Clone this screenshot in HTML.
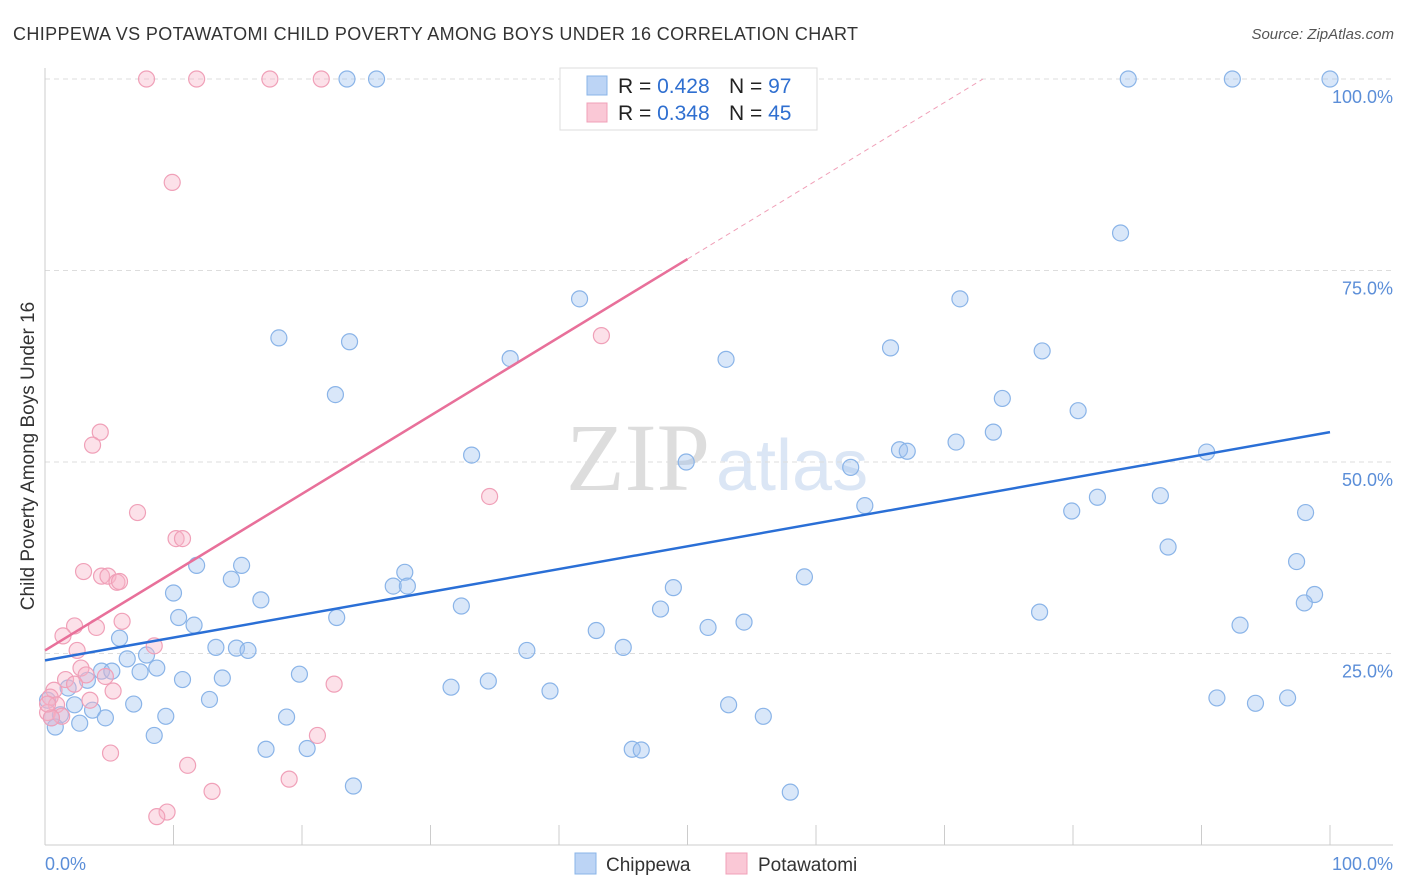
<!DOCTYPE html>
<html><head><meta charset="utf-8"><style>
body{margin:0;background:#fff;font-family:"Liberation Sans",sans-serif;}
svg{display:block}
</style></head><body>
<svg id="chart" width="1406" height="892">
<text x="13" y="40" font-size="18" fill="#333" textLength="845">CHIPPEWA VS POTAWATOMI CHILD POVERTY AMONG BOYS UNDER 16 CORRELATION CHART</text>
<text x="1394" y="39" font-size="15" fill="#555" font-style="italic" text-anchor="end">Source: ZipAtlas.com</text>
<text x="0" y="0" transform="translate(34,456) rotate(-90)" font-size="19" fill="#333" text-anchor="middle">Child Poverty Among Boys Under 16</text>
<text x="710" y="490" font-size="96" fill="#ddd" font-family="Liberation Serif,serif" text-anchor="end">ZIP</text>
<text x="716" y="490" font-size="72" fill="#dbe6f5">atlas</text>
<g id="grid"></g><g id="axes"></g><g id="pts"></g><g id="lines"></g>
<g>
<rect x="560" y="68" width="257" height="62" fill="#fff" stroke="#ddd"/>
<rect x="587" y="76" width="20" height="19" fill="#bcd4f5" stroke="#8ab4e8"/>
<rect x="587" y="103" width="20" height="19" fill="#fac8d6" stroke="#f0a0b8"/>
<text x="618" y="93" font-size="21" fill="#222">R = <tspan fill="#2f6fd0">0.428</tspan></text>
<text x="729" y="93" font-size="21" fill="#222">N = <tspan fill="#2f6fd0">97</tspan></text>
<text x="618" y="120" font-size="21" fill="#222">R = <tspan fill="#2f6fd0">0.348</tspan></text>
<text x="729" y="120" font-size="21" fill="#222">N = <tspan fill="#2f6fd0">45</tspan></text>
</g>
<g>
<rect x="575" y="853" width="21" height="21" fill="#bcd4f5" stroke="#8ab4e8"/>
<text x="606" y="871" font-size="19" fill="#333">Chippewa</text>
<rect x="726" y="853" width="21" height="21" fill="#fac8d6" stroke="#f0a0b8"/>
<text x="758" y="871" font-size="19" fill="#333">Potawatomi</text>
</g>
</svg>
<script>
const blueX=[23.5,25.8,84.3,92.4,100,83.7,41.6,71.2,18.2,23.7,65.8,77.6,36.2,53.0,22.6,74.5,80.4,73.8,70.9,66.5,67.1,90.4,33.2,49.9,62.7,86.8,81.9,79.9,63.8,98.1,87.4,97.4,11.8,15.3,14.5,28.0,27.1,28.2,48.9,59.1,10.0,16.8,98.8,32.4,47.9,98.0,22.7,10.4,11.6,77.4,42.9,51.6,54.4,93.0,5.8,13.3,14.9,15.8,37.5,45.0,7.9,6.4,8.7,7.4,4.4,5.2,3.3,10.7,13.8,19.8,1.8,31.6,34.5,39.3,12.8,6.9,2.3,3.7,4.7,9.4,18.8,53.2,55.9,91.2,94.2,96.7,0.5,1.2,2.7,0.8,8.5,17.2,20.4,45.7,46.4,24.0,58.0,0.2];
const blueY=[100,100,100,100,100,79.9,71.3,71.3,66.2,65.7,64.9,64.5,63.5,63.4,58.8,58.3,56.7,53.9,52.6,51.6,51.4,51.3,50.9,50.0,49.3,45.6,45.4,43.6,44.3,43.4,38.9,37.0,36.5,36.5,34.7,35.6,33.8,33.8,33.6,35.0,32.9,32.0,32.7,31.2,30.8,31.6,29.7,29.7,28.7,30.4,28.0,28.4,29.1,28.7,27.0,25.8,25.7,25.4,25.4,25.8,24.8,24.3,23.1,22.6,22.7,22.7,21.5,21.6,21.8,22.3,20.5,20.6,21.4,20.1,19.0,18.4,18.3,17.6,16.6,16.8,16.7,18.3,16.8,19.2,18.5,19.2,16.6,17.0,15.9,15.4,14.3,12.5,12.6,12.5,12.4,7.7,6.9,18.9];
const pinkX=[7.9,11.8,17.5,21.5,9.9,43.3,4.3,3.7,34.6,7.2,10.2,10.7,3.0,4.4,4.9,5.6,5.8,2.3,4.0,6.0,1.4,8.5,2.5,2.8,1.6,3.2,2.3,4.7,22.5,0.7,5.3,0.4,3.5,0.9,0.2,1.3,0.5,21.2,5.1,11.1,13.0,19.0,9.5,8.7,0.2];
const pinkY=[100,100,100,100,86.5,66.5,53.9,52.2,45.5,43.4,40.0,40.0,35.7,35.1,35.1,34.3,34.4,28.6,28.4,29.2,27.3,26.0,25.4,23.1,21.6,22.2,21.0,22.0,21.0,20.2,20.1,19.3,18.9,18.3,17.3,16.8,16.6,14.3,12.0,10.4,7.0,8.6,4.3,3.7,18.4];
const blueFit=[24.1,53.9];
const pinkFit=[25.4,127.6];
const pinkSolidEnd=50;
const yTicks=[25,50,75,100];
const yTickLabels=["25.0%","50.0%","75.0%","100.0%"];
const xTicks=[0,10,20,30,40,50,60,70,80,90,100];
const X0=45,X1=1330,Y0=845,Y100=79;
const sx=v=>X0+(X1-X0)*v/100, sy=v=>Y0-(Y0-Y100)*v/100;
const NS="http://www.w3.org/2000/svg";
function mk(tag,attrs,parent){const e=document.createElementNS(NS,tag);for(const k in attrs)e.setAttribute(k,attrs[k]);document.getElementById(parent).appendChild(e);return e;}
yTicks.forEach((t,i)=>{
 const g=mk('line',{x1:X0,x2:1393,y1:sy(t),y2:sy(t),stroke:'#ddd','stroke-dasharray':'5,4'},'grid');
 
 
 const l=mk('text',{x:1393,y:sy(t)+24,'font-size':18,fill:'#5b8ed8','text-anchor':'end'},'grid');
 l.textContent=yTickLabels[i];
 
 
});
const ya=mk('line',{x1:X0,x2:X0,y1:68,y2:Y0,stroke:'#ccc'},'axes');


const xa=mk('line',{x1:X0,x2:1393,y1:Y0,y2:Y0,stroke:'#ccc'},'axes');


xTicks.forEach(t=>{
 const k=mk('line',{x1:sx(t),x2:sx(t),y1:Y0-20,y2:Y0,stroke:'#ccc'},'axes');
 
 
});
const xl0=mk('text',{x:45,y:870,'font-size':18,fill:'#5b8ed8'},'axes');xl0.textContent='0.0%';


const xl1=mk('text',{x:1393,y:870,'font-size':18,fill:'#5b8ed8','text-anchor':'end'},'axes');xl1.textContent='100.0%';


blueX.forEach((x,i)=>{
 const c=mk('circle',{cx:sx(x),cy:sy(blueY[i]),r:8,fill:'rgba(160,196,240,0.4)',stroke:'#8ab4e8','stroke-width':1.2},'pts');
 
 
});
pinkX.forEach((x,i)=>{
 const c=mk('circle',{cx:sx(x),cy:sy(pinkY[i]),r:8,fill:'rgba(248,180,200,0.4)',stroke:'#f0a0b8','stroke-width':1.2},'pts');
 
 
});
const bl=mk('line',{x1:sx(0),y1:sy(blueFit[0]),x2:sx(100),y2:sy(blueFit[1]),stroke:'#2a6fd6','stroke-width':2.5},'lines');


const pf=x=>pinkFit[0]+(pinkFit[1]-pinkFit[0])*x/100;
const pl=mk('line',{x1:sx(0),y1:sy(pf(0)),x2:sx(pinkSolidEnd),y2:sy(pf(pinkSolidEnd)),stroke:'#e8709a','stroke-width':2.5},'lines');


const xEnd=(100-pinkFit[0])/(pinkFit[1]-pinkFit[0])*100;
const pd=mk('line',{x1:sx(pinkSolidEnd),y1:sy(pf(pinkSolidEnd)),x2:sx(xEnd),y2:sy(100),stroke:'#f0a0b8','stroke-width':1,'stroke-dasharray':'5,4'},'lines');


</script>
</body></html>
